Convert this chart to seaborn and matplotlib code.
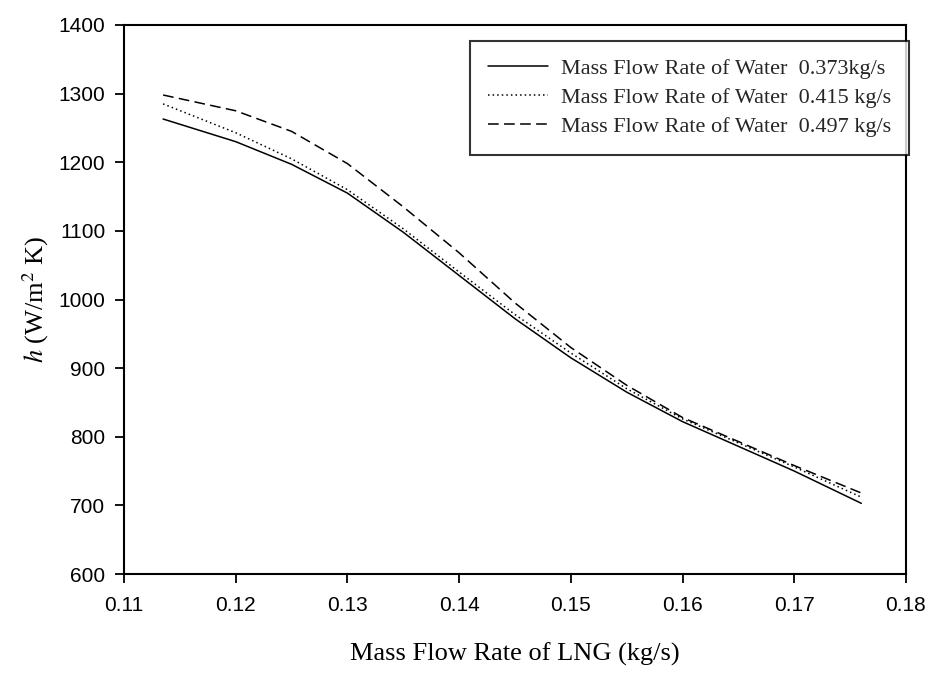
import numpy as np
import pandas as pd
import matplotlib
matplotlib.use("Agg")
import matplotlib.pyplot as plt
import seaborn as sns

lng_flow = [0.1135, 0.12, 0.125, 0.13, 0.135, 0.14, 0.145, 0.15, 0.155, 0.16, 0.165, 0.17, 0.176]
h_0373 = [1263, 1230, 1197, 1155, 1098, 1035, 972, 915, 865, 822, 786, 750, 703]
h_0415 = [1285, 1243, 1205, 1160, 1103, 1040, 978, 922, 870, 826, 791, 756, 712]
h_0497 = [1298, 1275, 1245, 1198, 1135, 1068, 995, 930, 875, 828, 793, 758, 718]
labels = ["Mass Flow Rate of Water  0.373kg/s",
          "Mass Flow Rate of Water  0.415 kg/s",
          "Mass Flow Rate of Water  0.497 kg/s"]
xticks = [0.11, 0.12, 0.13, 0.14, 0.15, 0.16, 0.17, 0.18]
yticks = [600, 700, 800, 900, 1000, 1100, 1200, 1300, 1400]

df = pd.concat([
    pd.DataFrame({"x": lng_flow, "h": vals, "series": lab})
    for vals, lab in zip([h_0373, h_0415, h_0497], labels)
])

sns.set_theme(style="white")
plt.rcParams["font.family"] = ["Liberation Sans", "DejaVu Sans"]
plt.rcParams["mathtext.fontset"] = "stix"

fig = plt.figure(figsize=(9.47, 6.73), dpi=100)
ax = fig.add_axes([124/947, 1-574/673, (906-124)/947, (574-25)/673])

dash_map = {labels[0]: "", labels[1]: (1, 2), labels[2]: (7, 3.5)}
sns.lineplot(data=df, x="x", y="h", hue="series", style="series",
             palette=["black"]*3, dashes=dash_map, linewidth=1.1,
             sort=False, ax=ax)

ax.set_xlim(0.11, 0.18)
ax.set_ylim(600, 1400)
ax.set_xticks(xticks)
ax.set_xticklabels([f"{v:.2f}" for v in xticks])
ax.set_yticks(yticks)
ax.tick_params(direction="out", length=6.5, width=1.3, colors="black",
               labelsize=15, bottom=True, left=True)
ax.tick_params(axis="y", pad=7)
ax.tick_params(axis="x", pad=9)
for s in ax.spines.values():
    s.set_color("black")
    s.set_linewidth(1.5)

serif = ["Liberation Serif", "DejaVu Serif"]
ax.set_xlabel("Mass Flow Rate of LNG (kg/s)", fontsize=19, family=serif, labelpad=20, color="black")
ax.set_ylabel(r"$h$ (W/m$^2$ K)", fontsize=19, family=serif, labelpad=5, color="black")
ax.yaxis.label.set_math_fontfamily("stix")

leg = ax.legend(loc="upper right", bbox_to_anchor=(1.004, 0.971),
                prop={"family": serif, "size": 16}, frameon=True, fancybox=False,
                handlelength=2.7, borderpad=0.8, labelspacing=0.38,
                handletextpad=0.6, borderaxespad=0)
leg.get_frame().set_edgecolor("black")
leg.get_frame().set_linewidth(1.5)
leg.set_title(None)

fig.savefig("out.png", dpi=100)
